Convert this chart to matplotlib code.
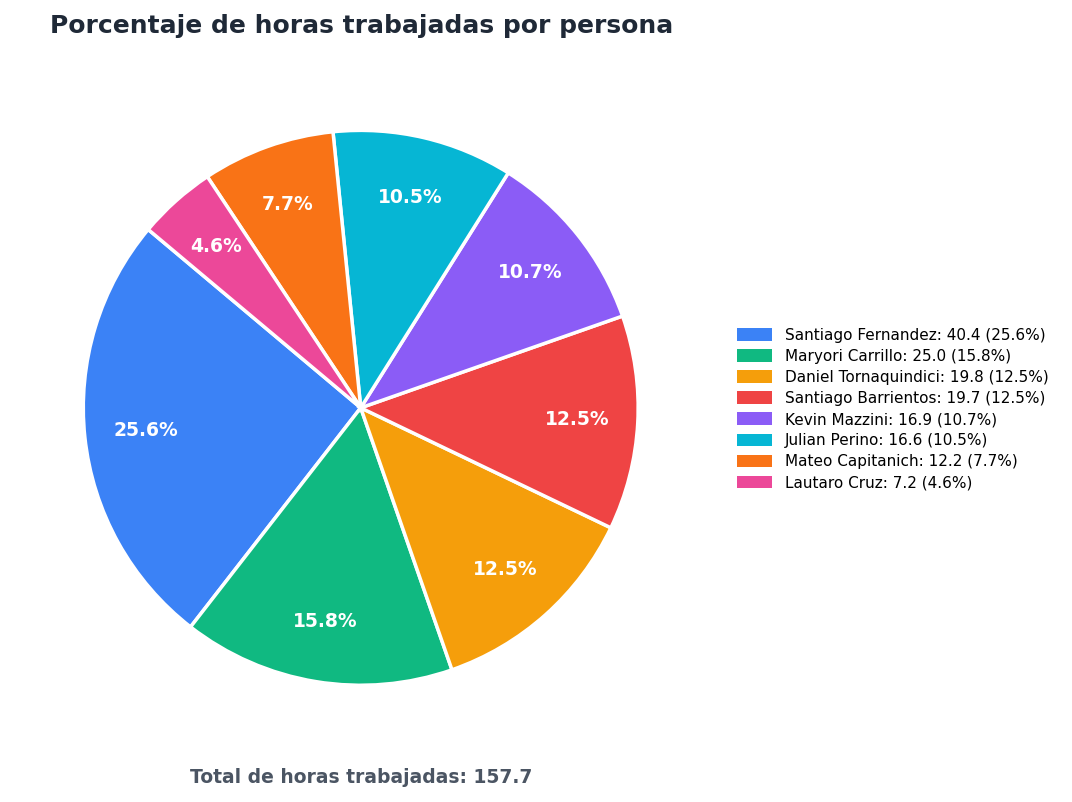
import matplotlib.pyplot as plt
from matplotlib.patches import Patch

names = ["Santiago Fernandez", "Maryori Carrillo", "Daniel Tornaquindici", "Santiago Barrientos",
         "Kevin Mazzini", "Julian Perino", "Mateo Capitanich", "Lautaro Cruz"]
hours = [40.4, 25.0, 19.8, 19.7, 16.9, 16.6, 12.2, 7.2]
colors = ["#3b82f6", "#10b981", "#f59e0b", "#ef4444", "#8b5cf6", "#06b6d4", "#f97316", "#ec4899"]
total_label = 157.7

total = sum(hours)
fig = plt.figure(figsize=(10.72, 8.02), dpi=100)
ax = fig.add_axes([0.013, 0.059, 0.647, 0.865])
wedges, texts, autotexts = ax.pie(hours, colors=colors, startangle=140, autopct="%1.1f%%",
                                  pctdistance=0.78,
                                  wedgeprops=dict(edgecolor="white", linewidth=2.5),
                                  textprops=dict(color="white", fontsize=13.5, fontweight="bold"))
ax.set_aspect("equal")
labels = [f"{n}: {h} ({h / total * 100:.1f}%)" for n, h in zip(names, hours)]
handles = [Patch(facecolor=c) for c in colors]
fig.legend(handles, labels, loc="center left", bbox_to_anchor=(0.675, 0.49), frameon=False,
           fontsize=11, handlelength=2.3, handleheight=0.9, labelspacing=0.4)
fig.text(0.047, 0.967, "Porcentaje de horas trabajadas por persona", fontsize=18, fontweight="bold",
         color="#1f2937", va="center")
fig.text(0.337, 0.03, f"Total de horas trabajadas: {total_label}", fontsize=13.5, fontweight="bold",
         color="#4b5563", ha="center", va="center")
fig.savefig("out.png", dpi=100)
